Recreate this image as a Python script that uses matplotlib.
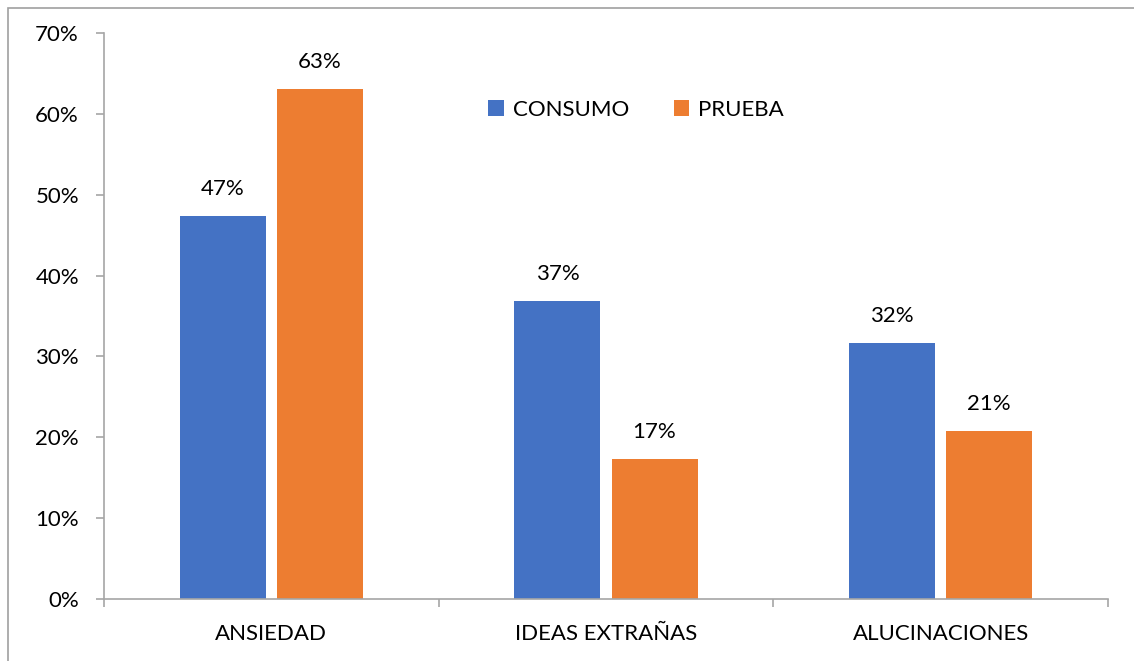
import matplotlib.pyplot as plt
from matplotlib.patches import Rectangle
from matplotlib.ticker import PercentFormatter, FixedLocator
import numpy as np

plt.rcParams['font.family'] = ['Lato', 'DejaVu Sans']

categorias = ['ANSIEDAD', 'IDEAS EXTRAÑAS', 'ALUCINACIONES']
consumo = [0.474, 0.369, 0.317]
prueba = [0.631, 0.173, 0.208]
series = ['CONSUMO', 'PRUEBA']
colores = ['#4472C4', '#ED7D31']
gris = '#A6A6A6'
fs = 16

fig = plt.figure(figsize=(11.34, 6.61), dpi=100)
ax = fig.add_axes([104 / 1134, 1 - 599 / 661, 1004 / 1134, 566 / 661])

# marco del gráfico (solo se ven los bordes superior e izquierdo)
fig.patches.append(Rectangle((8 / 1134, -0.1), 1.2, (1 - 8 / 661) + 0.1,
                             transform=fig.transFigure, fill=False,
                             edgecolor='#A0A0A0', linewidth=1.2))

x = np.arange(len(categorias))
ancho = 0.257
sep = 0.145
for i, (vals, nombre, color) in enumerate(zip([consumo, prueba], series, colores)):
    pos = x + (sep if i else -sep)
    barras = ax.bar(pos, vals, width=ancho, color=color, label=nombre)
    for b, v in zip(barras, vals):
        ax.annotate(f'{v:.0%}', (b.get_x() + b.get_width() / 2, v),
                    xytext=(0, 12), textcoords='offset points',
                    ha='center', va='bottom', fontsize=fs)

ax.set_xlim(-0.5, len(categorias) - 0.5)
ax.set_ylim(0, 0.70)
ax.set_yticks(np.arange(0, 0.71, 0.10))
ax.yaxis.set_major_formatter(PercentFormatter(1.0, decimals=0))
ax.set_xticks(x)
ax.set_xticklabels(categorias)
ax.xaxis.set_minor_locator(FixedLocator(np.arange(-0.5, len(categorias), 1.0)))

for s in ['top', 'right']:
    ax.spines[s].set_visible(False)
for s in ['left', 'bottom']:
    ax.spines[s].set_color(gris)
    ax.spines[s].set_linewidth(1.2)

ax.tick_params(axis='y', length=6, width=1.2, color=gris, pad=12, labelsize=fs)
ax.tick_params(axis='x', which='major', length=0, pad=18, labelsize=fs)
ax.tick_params(axis='x', which='minor', length=6, width=1.2, color=gris)

ax.legend(loc='center', bbox_to_anchor=(0.53, 0.864), ncol=2, frameon=False,
          fontsize=fs, handlelength=0.7, handleheight=0.7, columnspacing=2.0,
          handletextpad=0.4)

fig.savefig('out.png', dpi=100)
